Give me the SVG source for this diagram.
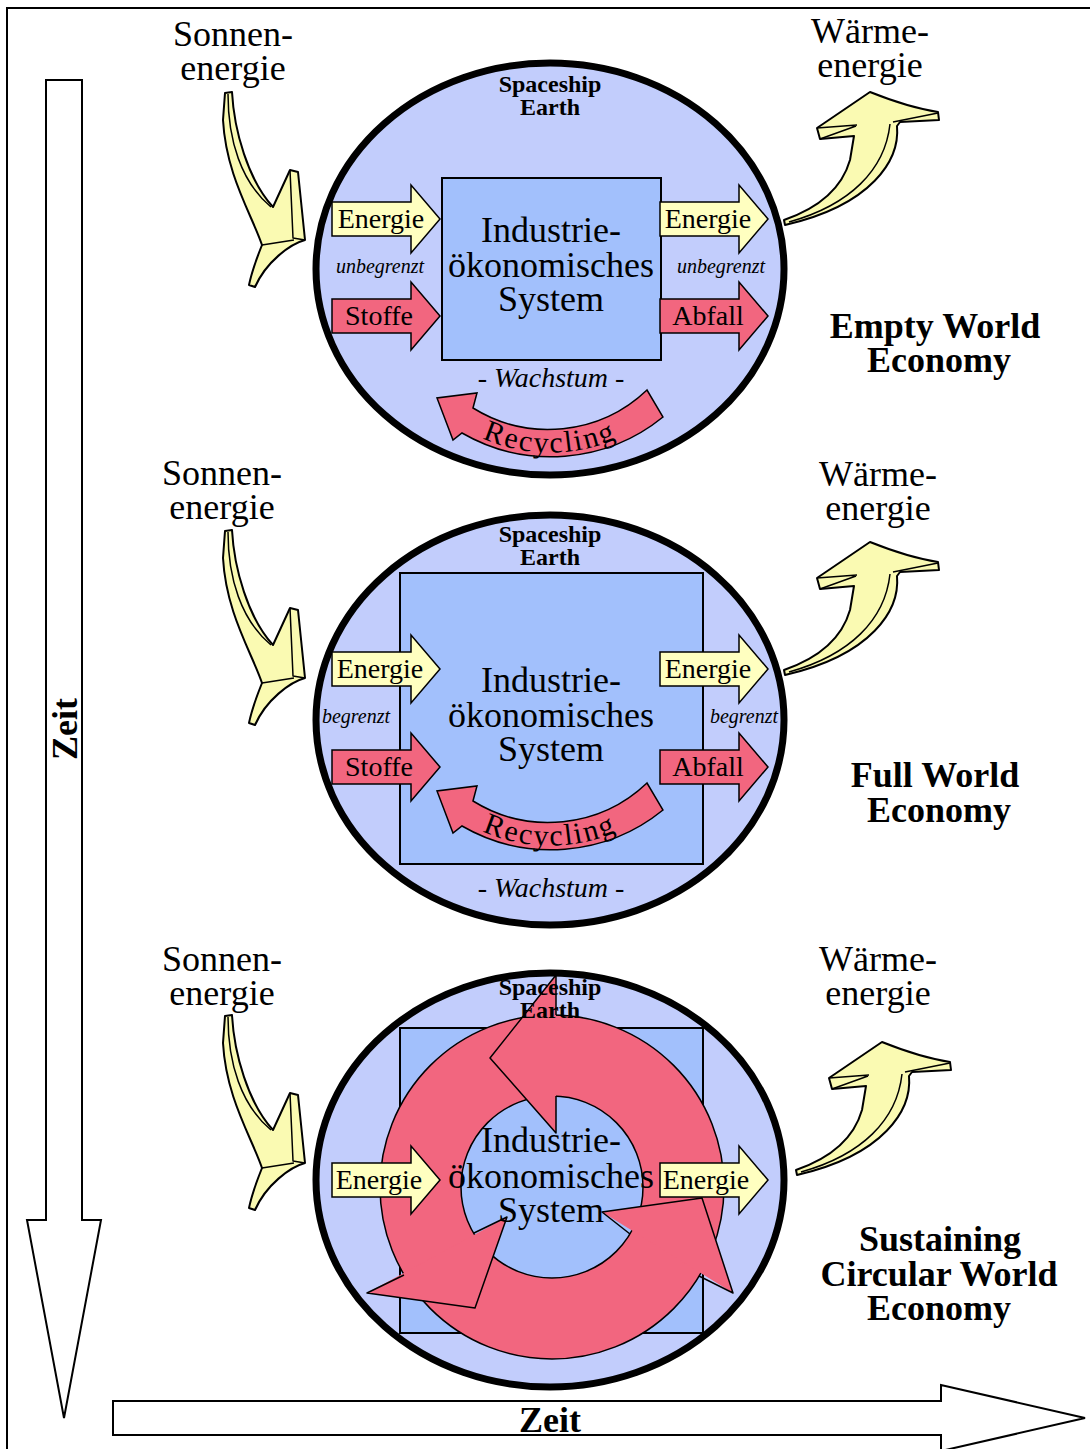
<svg xmlns="http://www.w3.org/2000/svg" xmlns:xlink="http://www.w3.org/1999/xlink" width="1090" height="1449" viewBox="0 0 1090 1449">
<style>
.ell{fill:#c2cdfc;stroke:#000;stroke-width:7}
.box{fill:#a2c0fc;stroke:#000;stroke-width:2}
.yel{fill:#ffffc0;stroke:#000;stroke-width:1.5}
.red{fill:#f2667f;stroke:#000;stroke-width:1.5}
.sun{fill:#fafab2;stroke:#000;stroke-width:2;stroke-linejoin:round}
.det{fill:none;stroke:#000;stroke-width:1.5;stroke-linejoin:round}
.zeit{fill:#fff;stroke:#000;stroke-width:2}
text{font-family:"Liberation Serif","Times New Roman",serif;fill:#000;text-anchor:middle}
.big{font-size:36px}
.sys{font-size:36px}
.lbl{font-size:28px}
.it{font-size:20px;font-style:italic}
.wa{font-size:28px;font-style:italic}
.sp{font-size:24px;font-weight:bold}
.ttl{font-size:36px;font-weight:bold}
.rec{font-size:30px;letter-spacing:2px}
</style>
<defs>
<path id="arr" d="M0,-17 H79 V-34 L108,0 L79,34 V17 H0 Z"/>
<g id="sunArrow">
<path class="sun" d="M225,93 L232,92 C234,130 248,180 273,207 L290,170 L298,172 L305,240 C290,244 266,262 255,287 L249,285 C252,270 258,255 262,245 C252,215 226,175 223,120 Z"/>
<path class="det" d="M228,94 C228,140 241,182 271,207 M290,170 L293,238 L305,240 M262,245 L294,240"/>
</g>
<g id="heatArrow">
<path class="sun" d="M784,220 C810,211 840,195 850,160 L854,136 L820,139 L817,128 L870,92 C885,98 912,108 938,112 L939,120 L900,122 L897,126 C900,160 872,205 785,225 Z"/>
<path class="det" d="M789,222 C850,205 885,170 890,124 M817,128 L857,125 M820,139 L856,126 M893,122 L938,113"/>
</g>
<path id="recArrow" d="M647,390 A143,143 0 0 1 473,408 L477,393 L437,398 L453,440 L462,433 A178,178 0 0 0 663,417 Z"/>
<path id="recText" d="M405,368.5 A167,167 0 0 0 695,368.5"/>
</defs>

<rect x="7" y="8" width="1100" height="1460" fill="none" stroke="#000" stroke-width="2"/>

<g id="zeit-vertical">
<path class="zeit" d="M46,80 H82 V1220 H101 L64,1418 L27,1220 H46 Z"/>
<text class="ttl" transform="translate(77,729) rotate(-90)">Zeit</text>
</g>
<g id="zeit-horizontal">
<path class="zeit" d="M113,1401 H941 V1385 L1085,1418 L941,1451 V1435 H113 Z"/>
<text class="ttl" x="550" y="1432">Zeit</text>
</g>

<!-- Empty World -->
<g id="sun-1"><use xlink:href="#sunArrow"/>
<text class="big" x="233" y="46">Sonnen-</text><text class="big" x="233" y="80">energie</text></g>
<g id="heat-1"><use xlink:href="#heatArrow"/>
<text class="big" x="870" y="43">Wärme-</text><text class="big" x="870" y="77">energie</text></g>
<g id="earth-1">
<ellipse class="ell" cx="550" cy="269" rx="234" ry="206"/>
<text class="sp" x="550" y="92">Spaceship</text><text class="sp" x="550" y="115">Earth</text>
<rect class="box" x="442" y="178" width="219" height="182"/>
<text class="sys" x="551" y="242">Industrie-</text><text class="sys" x="551" y="277">ökonomisches</text><text class="sys" x="551" y="311">System</text>
<use class="yel" xlink:href="#arr" x="332" y="219"/><use class="red" xlink:href="#arr" x="332" y="316"/>
<use class="yel" xlink:href="#arr" x="660" y="219"/><use class="red" xlink:href="#arr" x="660" y="316"/>
<text class="lbl" x="381" y="228">Energie</text><text class="lbl" x="379" y="325">Stoffe</text>
<text class="lbl" x="708" y="228">Energie</text><text class="lbl" x="708" y="325">Abfall</text>
<text class="it" x="380" y="273">unbegrenzt</text><text class="it" x="721" y="273">unbegrenzt</text>
<text class="wa" x="551" y="387">- Wachstum -</text>
<use class="red" xlink:href="#recArrow"/>
<text class="rec"><textPath xlink:href="#recText" startOffset="50%">Recycling</textPath></text>
</g>
<g id="title-1"><text class="ttl" x="935" y="338">Empty World</text><text class="ttl" x="939" y="372">Economy</text></g>

<!-- Full World -->
<g id="sun-2" transform="translate(0,438)"><use xlink:href="#sunArrow"/></g>
<g id="sun-2-label"><text class="big" x="222" y="485">Sonnen-</text><text class="big" x="222" y="519">energie</text></g>
<g id="heat-2" transform="translate(0,450)"><use xlink:href="#heatArrow"/></g>
<g id="heat-2-label"><text class="big" x="878" y="486">Wärme-</text><text class="big" x="878" y="520">energie</text></g>
<g id="earth-2">
<ellipse class="ell" cx="550" cy="720" rx="234" ry="205"/>
<text class="sp" x="550" y="542">Spaceship</text><text class="sp" x="550" y="565">Earth</text>
<rect class="box" x="400" y="573" width="303" height="291"/>
<text class="sys" x="551" y="692">Industrie-</text><text class="sys" x="551" y="727">ökonomisches</text><text class="sys" x="551" y="761">System</text>
<use class="yel" xlink:href="#arr" x="332" y="669"/><use class="red" xlink:href="#arr" x="332" y="767"/>
<use class="yel" xlink:href="#arr" x="660" y="669"/><use class="red" xlink:href="#arr" x="660" y="767"/>
<text class="lbl" x="380" y="678">Energie</text><text class="lbl" x="379" y="776">Stoffe</text>
<text class="lbl" x="708" y="678">Energie</text><text class="lbl" x="708" y="776">Abfall</text>
<text class="it" x="356" y="723">begrenzt</text><text class="it" x="744" y="723">begrenzt</text>
<g transform="translate(0,393)"><use class="red" xlink:href="#recArrow"/>
<text class="rec"><textPath xlink:href="#recText" startOffset="50%">Recycling</textPath></text></g>
<text class="wa" x="551" y="897">- Wachstum -</text>
</g>
<g id="title-2"><text class="ttl" x="935" y="787">Full World</text><text class="ttl" x="939" y="822">Economy</text></g>

<!-- Sustaining Circular -->
<g id="sun-3" transform="translate(0,923)"><use xlink:href="#sunArrow"/></g>
<g id="sun-3-label"><text class="big" x="222" y="971">Sonnen-</text><text class="big" x="222" y="1005">energie</text></g>
<g id="heat-3" transform="translate(12,950)"><use xlink:href="#heatArrow"/></g>
<g id="heat-3-label"><text class="big" x="878" y="971">Wärme-</text><text class="big" x="878" y="1005">energie</text></g>
<g id="earth-3">
<ellipse class="ell" cx="550" cy="1180" rx="234" ry="207"/>
<rect class="box" x="400" y="1028" width="303" height="305"/>
<path class="red" fill-rule="evenodd" d="M380,1187 a172,172 0 1,0 344,0 a172,172 0 1,0 -344,0 Z M461,1187 a91,91 0 1,0 182,0 a91,91 0 1,0 -182,0 Z"/>
<g fill="#f2667f">
<path d="M556,975 L490,1058 L556,1133 Z"/>
<path d="M507,1217 L475,1308 L367,1293 Z"/>
<path d="M602,1212 L702,1198 L733,1293 Z"/>
</g>
<path class="det" d="M556,1096 L556,1133 L490,1058 L556,975 L556,1015 M474,1233 L507,1217 L475,1308 L367,1293 L404,1275 M630,1234 L602,1212 L702,1198 L733,1293 L699,1276"/>
<text class="sp" x="550" y="995">Spaceship</text><text class="sp" x="550" y="1018">Earth</text>
<text class="sys" x="551" y="1152">Industrie-</text><text class="sys" x="551" y="1188">ökonomisches</text><text class="sys" x="551" y="1222">System</text>
<use class="yel" xlink:href="#arr" x="332" y="1180"/><use class="yel" xlink:href="#arr" x="660" y="1180"/>
<text class="lbl" x="379" y="1189">Energie</text><text class="lbl" x="706" y="1189">Energie</text>
</g>
<g id="title-3"><text class="ttl" x="940" y="1251">Sustaining</text><text class="ttl" x="939" y="1286">Circular World</text><text class="ttl" x="939" y="1320">Economy</text></g>
</svg>
